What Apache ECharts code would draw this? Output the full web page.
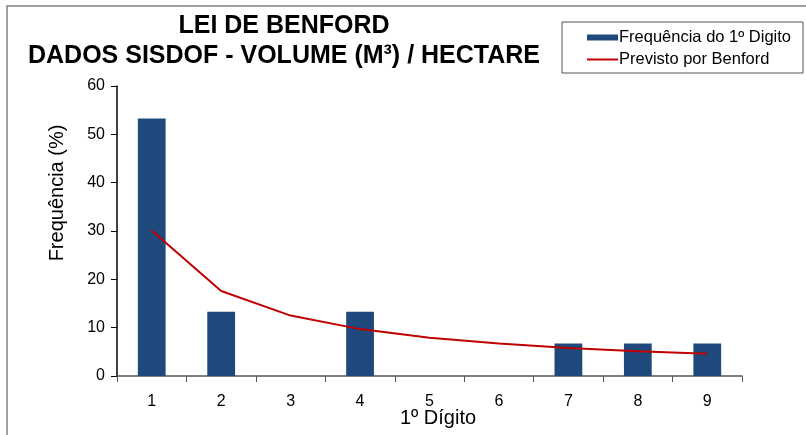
<!DOCTYPE html>
<html><head><meta charset="utf-8">
<script src="https://cdn.jsdelivr.net/npm/echarts@6/dist/echarts.min.js"></script>
<style>html,body{margin:0;padding:0;background:#fff}#c{width:806px;height:435px}</style>
</head><body><div id="c"></div>
<script>
var categories = ['1','2','3','4','5','6','7','8','9'];
var observed = [53.3, 13.3, 0, 13.3, 0, 0, 6.7, 6.7, 6.7];
var benford = [30.1, 17.6, 12.5, 9.7, 7.9, 6.7, 5.8, 5.1, 4.6];
var seriesNames = ['Frequência do 1º Digito', 'Previsto por Benford'];
var titleLines = ['LEI DE BENFORD', 'DADOS SISDOF - VOLUME (M³) / HECTARE'];
var xAxisName = '1º Dígito';
var yAxisName = 'Frequência (%)';

var F = '"Liberation Sans", Arial, sans-serif';
var chart = echarts.init(document.getElementById('c'));
chart.setOption({
  animation: false,
  textStyle: {fontFamily: F},
  grid: {left: 117, right: 64, top: 86, bottom: 59},
  graphic: [
    {type: 'rect', shape: {x: 7, y: 6, width: 900, height: 600}, style: {fill: 'none', stroke: '#808080', lineWidth: 1.5}, silent: true},
    {type: 'rect', shape: {x: 562, y: 22, width: 241, height: 51}, style: {fill: '#fff', stroke: '#555', lineWidth: 1}, z: 0},
    {type: 'text', x: 284, y: 26, style: {text: titleLines[0], font: 'bold 25px ' + F, fill: '#000', textAlign: 'center', textVerticalAlign: 'middle'}},
    {type: 'text', x: 284, y: 56, style: {text: titleLines[1], font: 'bold 25px ' + F, fill: '#000', textAlign: 'center', textVerticalAlign: 'middle'}},
    {type: 'text', x: 57, y: 193, rotation: Math.PI / 2, style: {text: yAxisName, font: '20px ' + F, fill: '#000', textAlign: 'center', textVerticalAlign: 'middle'}},
    {type: 'text', x: 438, y: 418, style: {text: xAxisName, font: '20px ' + F, fill: '#000', textAlign: 'center', textVerticalAlign: 'middle'}}
  ],
  legend: {
    orient: 'vertical', left: 582, top: 24, itemGap: 5, itemWidth: 31, itemHeight: 17,
    textStyle: {fontSize: 16.5, color: '#000', fontFamily: F, padding: [0,0,0,-4]},
    data: [
      {name: seriesNames[0], icon: 'path://M0,0H31V6H0Z'},
      {name: seriesNames[1], icon: 'path://M0,0H31V2H0Z'}
    ]
  },
  xAxis: {
    type: 'category', data: categories,
    axisLine: {lineStyle: {color: '#555', width: 1.5}},
    axisTick: {show: true, length: 6, lineStyle: {color: '#555'}},
    axisLabel: {fontSize: 16, color: '#000', margin: 18}
  },
  yAxis: {
    type: 'value', min: 0, max: 60, interval: 10,
    axisLine: {show: true, lineStyle: {color: '#000', width: 1.5}},
    axisTick: {show: true, length: 6, lineStyle: {color: '#000'}},
    axisLabel: {fontSize: 16, color: '#000', margin: 12},
    splitLine: {show: false}
  },
  series: [
    {name: seriesNames[0], type: 'bar', data: observed, barWidth: '40%',
     itemStyle: {color: '#1f497d'}},
    {name: seriesNames[1], type: 'line', data: benford, symbol: 'none',
     lineStyle: {color: '#c00000', width: 2}, itemStyle: {color: '#c00000'}}
  ]
});
</script></body></html>
